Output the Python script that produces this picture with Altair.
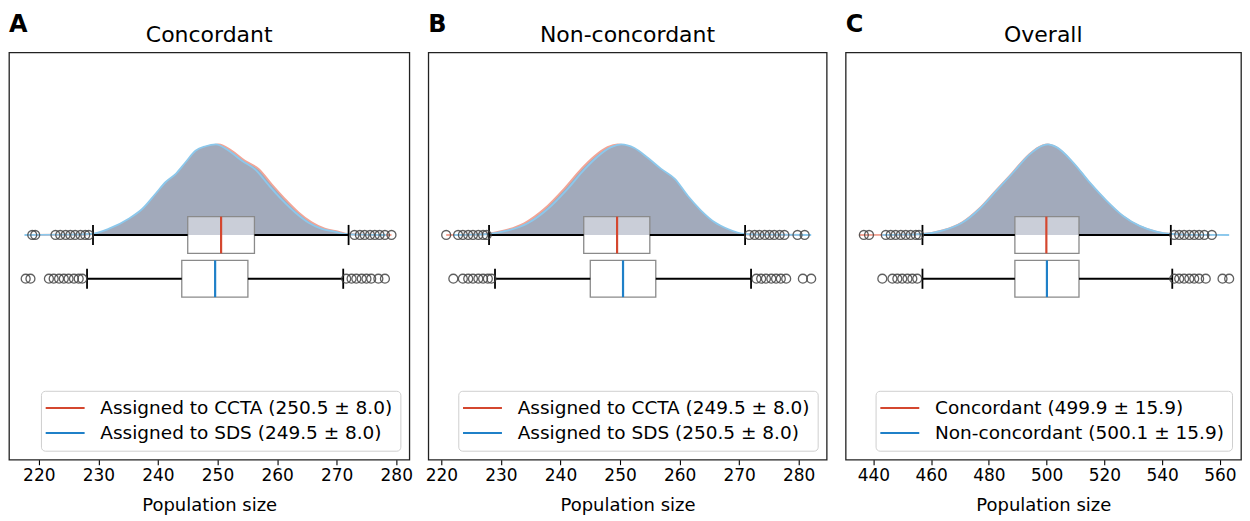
import altair as alt
import pandas as pd

# ---------------- data ----------------
panel_letters = ["A", "B", "C"]
panel_titles = ["Concordant", "Non-concordant", "Overall"]
series_labels = [
    ["Assigned to CCTA (250.5 ± 8.0)", "Assigned to SDS (249.5 ± 8.0)"],
    ["Assigned to CCTA (249.5 ± 8.0)", "Assigned to SDS (250.5 ± 8.0)"],
    ["Concordant (499.9 ± 15.9)", "Non-concordant (500.1 ± 15.9)"],
]

# box statistics: q1, median, q3, whisker low, whisker high
box_a_ccta = [245.0, 250.6, 256.2, 229.1, 272.0]
box_a_sds = [244.0, 249.6, 255.1, 228.1, 271.1]
box_b_ccta = [243.9, 249.5, 255.0, 228.0, 271.0]
box_b_sds = [245.0, 250.5, 256.0, 229.0, 272.0]
box_c_conc = [489.0, 499.9, 511.2, 457.0, 543.0]
box_c_non = [489.0, 500.1, 511.2, 457.0, 543.5]

# outliers
out_a_ccta = [218.9, 219.4, 222.8, 223.6, 224.5, 225.3, 226.1, 227.0, 227.8, 228.4,
              273.0, 273.9, 274.7, 275.6, 276.4, 277.2, 278.1, 279.2]
out_a_sds = [217.8, 218.6, 221.7, 222.5, 223.4, 224.2, 225.0, 225.9, 226.7, 227.3,
             271.6, 272.5, 273.3, 274.2, 275.0, 275.8, 277.0, 278.1]
out_b_ccta = [220.8, 222.8, 223.6, 224.5, 225.3, 226.2, 227.0, 227.6,
              271.7, 272.6, 273.4, 274.3, 275.1, 275.9, 276.8, 277.6, 279.8, 281.0]
out_b_sds = [222.0, 223.6, 224.5, 225.3, 226.2, 227.0, 227.8, 228.4,
             272.9, 273.7, 274.5, 275.4, 276.2, 277.0, 277.9, 280.7, 282.1]
out_c_conc = [436.7, 438.5, 444.3, 446.0, 447.7, 449.5, 451.2, 452.9, 454.7, 455.8,
              544.2, 545.9, 547.6, 549.4, 551.1, 552.8, 554.6, 557.2]
out_c_non = [443.1, 446.6, 448.3, 450.0, 451.8, 453.5, 455.2,
             544.2, 545.9, 547.6, 549.4, 551.1, 552.8, 555.1, 560.9, 563.2]

# density curves (relative height, peak = 1)
dens_a_ccta_x = [218.0, 225.0, 229.2, 232.3, 235.6, 237.9, 240.1, 241.8, 243.5, 245.1, 246.8, 248.5, 250.2,
                 252.4, 254.6, 256.9, 259.1, 261.3, 263.6, 265.8, 268.0, 270.3, 271.9, 275.0, 279.2]
dens_a_ccta_h = [0.0, 0.003, 0.011, 0.066, 0.176, 0.286, 0.45, 0.58, 0.67, 0.80, 0.93, 0.98, 1.0,
                 0.93, 0.82, 0.73, 0.56, 0.40, 0.25, 0.14, 0.07, 0.037, 0.011, 0.003, 0.0]
dens_a_sds_x = [217.6, 224.5, 228.7, 231.8, 235.1, 237.4, 239.6, 241.3, 243.0, 244.6, 246.3, 248.0, 249.7,
                251.9, 254.1, 256.4, 258.6, 260.8, 263.1, 265.3, 267.5, 269.8, 271.4, 274.5, 278.3]
dens_a_sds_h = [0.0, 0.003, 0.011, 0.07, 0.18, 0.29, 0.455, 0.585, 0.675, 0.80, 0.93, 0.98, 1.0,
                0.93, 0.82, 0.72, 0.55, 0.39, 0.245, 0.135, 0.068, 0.035, 0.011, 0.003, 0.0]
dens_b_ccta_x = [220.8, 224.4, 227.2, 230.6, 233.9, 237.3, 240.6, 243.5, 245.7, 247.9, 249.6, 251.8, 254.1,
                 256.3, 258.6, 260.8, 263.0, 265.3, 267.5, 270.3, 274.4, 281.0]
dens_b_ccta_h = [0.0, 0.003, 0.011, 0.05, 0.13, 0.29, 0.51, 0.73, 0.87, 0.97, 1.0, 0.96, 0.85,
                 0.73, 0.61, 0.42, 0.26, 0.135, 0.064, 0.011, 0.003, 0.0]
dens_b_sds_x = [222.0, 225.0, 227.8, 231.2, 234.5, 237.9, 241.2, 244.1, 246.3, 248.5, 250.2, 252.4, 254.7,
                256.9, 259.2, 261.4, 263.6, 265.9, 268.1, 270.9, 275.0, 282.1]
dens_b_sds_h = [0.0, 0.003, 0.011, 0.05, 0.13, 0.29, 0.51, 0.73, 0.87, 0.97, 1.0, 0.96, 0.85,
                0.73, 0.62, 0.43, 0.27, 0.14, 0.066, 0.011, 0.003, 0.0]
dens_c_conc_x = [435.0, 445.0, 457.0, 463.9, 470.8, 476.6, 482.4, 488.2, 493.9, 498.6, 500.3, 503.2, 509.0,
                 514.7, 520.5, 526.3, 532.0, 537.8, 543.0, 550.0, 557.2]
dens_c_conc_h = [0.0, 0.002, 0.011, 0.05, 0.14, 0.29, 0.49, 0.69, 0.89, 0.99, 1.0, 0.97, 0.80,
                 0.58, 0.38, 0.21, 0.10, 0.037, 0.011, 0.002, 0.0]
dens_c_non_x = [443.1, 447.0, 457.2, 464.1, 471.0, 476.8, 482.6, 488.4, 494.1, 498.8, 500.5, 503.4, 509.2,
                514.9, 520.7, 526.5, 532.2, 538.0, 543.2, 550.0, 563.2]
dens_c_non_h = [0.0, 0.002, 0.011, 0.05, 0.14, 0.29, 0.49, 0.69, 0.89, 0.99, 1.0, 0.97, 0.80,
                0.58, 0.38, 0.21, 0.10, 0.037, 0.011, 0.002, 0.0]

x_domains = [[215.0, 282.2], [217.8, 284.7], [430.4, 567.3]]
x_ticks = [[220, 230, 240, 250, 260, 270, 280],
           [220, 230, 240, 250, 260, 270, 280],
           [440, 460, 480, 500, 520, 540, 560]]

panels = [
    dict(box=[box_a_ccta, box_a_sds], out=[out_a_ccta, out_a_sds],
         dens=[(dens_a_ccta_x, dens_a_ccta_h), (dens_a_sds_x, dens_a_sds_h)]),
    dict(box=[box_b_ccta, box_b_sds], out=[out_b_ccta, out_b_sds],
         dens=[(dens_b_ccta_x, dens_b_ccta_h), (dens_b_sds_x, dens_b_sds_h)]),
    dict(box=[box_c_conc, box_c_non], out=[out_c_conc, out_c_non],
         dens=[(dens_c_conc_x, dens_c_conc_h), (dens_c_non_x, dens_c_non_h)]),
]

# ---------------- styling ----------------
RED = "#d4472f"
BLUE = "#1f80c8"
LIGHT = ["#f2a596", "#8cc8ec"]
FILL = "#a2aabb"
ROWS = [1.0, 0.0]          # row positions (first series on top)
BOX_HALF = 0.42
CAP_HALF = 0.23
DENS_PEAK = 2.07
Y_DOMAIN = [-4.136, 5.175]
WIDTHS = [401, 399, 396]
HEIGHT = 408
FONT = "DejaVu Sans"


def make_panel(i):
    p = panels[i]
    labels = series_labels[i]
    xscale = alt.Scale(domain=x_domains[i], nice=False, zero=False)
    xaxis = alt.Axis(values=x_ticks[i], title="Population size", grid=False, domain=False,
                     tickColor="black", tickSize=5, tickWidth=1.1, labelColor="black",
                     labelFontSize=17, labelFont=FONT, labelPadding=3,
                     titleFontSize=18, titleFont=FONT, titleFontWeight="normal",
                     titleColor="black", titlePadding=13, labelFlush=False)
    yscale = alt.Scale(domain=Y_DOMAIN, nice=False, zero=False)

    def X(f):
        return alt.X(f, type="quantitative", scale=xscale, axis=xaxis)

    def Y(f):
        return alt.Y(f, type="quantitative", scale=yscale, axis=None)

    layers = []
    # densities
    for k in range(2):
        xs, hs = p["dens"][k]
        df = pd.DataFrame({"x": xs, "h": hs})
        df["top"] = ROWS[0] + df["h"] * DENS_PEAK
        df["base"] = ROWS[0]
        layers.append(
            alt.Chart(df).mark_area(
                color=FILL, opacity=1, interpolate="monotone",
                line=alt.OverlayMarkDef(color=LIGHT[k], strokeWidth=1.8),
            ).encode(x=X("x"), y=Y("top"), y2=alt.Y2("base"))
        )

    rows = []
    for k in range(2):
        q1, med, q3, lo, hi = p["box"][k]
        rows.append(dict(series=labels[k], row=ROWS[k], q1=q1, med=med, q3=q3, lo=lo, hi=hi,
                         ylo=ROWS[k] - BOX_HALF, yhi=ROWS[k] + BOX_HALF,
                         clo=ROWS[k] - CAP_HALF, chi=ROWS[k] + CAP_HALF))
    bdf = pd.DataFrame(rows)

    layers.append(
        alt.Chart(bdf).mark_rect(fill="white", fillOpacity=0.43, stroke="#8a8a8a", strokeWidth=1.3)
        .encode(x=X("q1"), x2=alt.X2("q3"), y=Y("ylo"), y2=alt.Y2("yhi"))
    )
    layers.append(
        alt.Chart(bdf).mark_rule(color="black", strokeWidth=1.8)
        .encode(x=X("lo"), x2=alt.X2("q1"), y=Y("row"))
    )
    layers.append(
        alt.Chart(bdf).mark_rule(color="black", strokeWidth=1.8)
        .encode(x=X("q3"), x2=alt.X2("hi"), y=Y("row"))
    )
    layers.append(
        alt.Chart(bdf).mark_rule(color="black", strokeWidth=1.8)
        .encode(x=X("lo"), y=Y("clo"), y2=alt.Y2("chi"))
    )
    layers.append(
        alt.Chart(bdf).mark_rule(color="black", strokeWidth=1.8)
        .encode(x=X("hi"), y=Y("clo"), y2=alt.Y2("chi"))
    )
    layers.append(
        alt.Chart(bdf).mark_rule(strokeWidth=2.2)
        .encode(
            x=X("med"), y=Y("ylo"), y2=alt.Y2("yhi"),
            color=alt.Color("series:N",
                            scale=alt.Scale(domain=labels, range=[RED, BLUE]),
                            legend=alt.Legend(title=None, orient="bottom-right", offset=9,
                                              padding=8, strokeColor="#cfcfcf",
                                              fillColor="rgba(255,255,255,0.85)",
                                              cornerRadius=4, labelFontSize=18.5, labelFont=FONT,
                                              labelColor="black", symbolType="M-4,0H4",
                                              symbolSize=95, symbolStrokeWidth=2,
                                              symbolOffset=7, labelOffset=26,
                                              rowPadding=6, labelLimit=0)),
        )
    )
    orows = []
    for k in range(2):
        for v in p["out"][k]:
            orows.append(dict(v=v, row=ROWS[k]))
    odf = pd.DataFrame(orows)
    layers.append(
        alt.Chart(odf).mark_point(shape="circle", filled=False, size=80, stroke="#444444",
                                  strokeWidth=1.3, opacity=0.85)
        .encode(x=X("v"), y=Y("row"))
    )
    # panel letter and title as text marks
    layers.append(
        alt.Chart(pd.DataFrame({"t": [panel_letters[i]]}))
        .mark_text(align="left", baseline="alphabetic", fontSize=24, fontWeight="bold",
                   font=FONT, color="black")
        .encode(text="t:N", x=alt.value(0), y=alt.value(-20))
    )
    layers.append(
        alt.Chart(pd.DataFrame({"t": [panel_titles[i]]}))
        .mark_text(align="center", baseline="alphabetic", fontSize=22, fontWeight="normal",
                   font=FONT, color="black")
        .encode(text="t:N", x=alt.value(WIDTHS[i] / 2), y=alt.value(-10))
    )

    return alt.layer(*layers).properties(width=WIDTHS[i], height=HEIGHT)


chart = alt.hconcat(*[make_panel(i) for i in range(3)], spacing=19, bounds="flush").resolve_scale(
    x="independent", color="independent"
).resolve_legend(color="independent").configure_view(
    stroke="#222222", strokeWidth=1.3
).properties(
    padding={"left": 0, "top": 4, "right": 0, "bottom": 0}
)

chart.save("out.html", embed_options={"renderer": "svg", "actions": False})
